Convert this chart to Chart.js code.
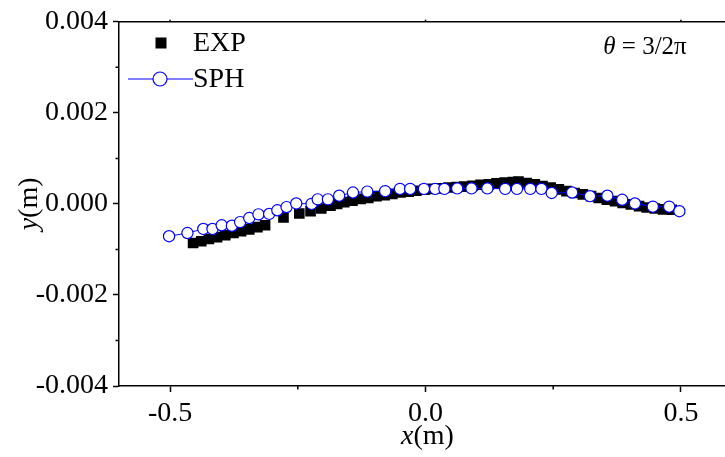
<!DOCTYPE html>
<html>
<head>
<meta charset="utf-8">
<script src="https://cdn.jsdelivr.net/npm/chart.js@4.4.1/dist/chart.umd.min.js"></script>
<style>
  html, body { margin: 0; padding: 0; overflow: hidden; background: #fff; }
  #chart { display: block; }
</style>
</head>
<body>
<canvas id="chart" width="740" height="457"></canvas>
<script>
// EXP (black squares)
const expX = [-0.455,-0.439,-0.424,-0.408,-0.392,-0.376,-0.361,-0.345,-0.329,-0.314,
  -0.278,-0.247,-0.225,-0.204,-0.186,-0.173,-0.159,-0.143,-0.127,-0.112,
  -0.096,-0.080,-0.065,-0.049,-0.033,-0.018,-0.002,0.014,0.029,0.045,
  0.061,0.076,0.092,0.108,0.124,0.139,0.155,0.171,0.182,0.198,
  0.214,0.229,0.245,0.261,0.276,0.292,0.308,0.324,0.339,0.355,
  0.371,0.386,0.402,0.418,0.433,0.449,0.465,0.482];
const expY = [-0.00086,-0.00082,-0.00077,-0.00073,-0.00069,-0.00064,-0.00060,-0.00056,-0.00051,-0.00047,
  -0.00030,-0.00021,-0.00016,-0.00010,-0.00004,0.00000,0.00004,0.00007,0.00011,0.00013,
  0.00017,0.00019,0.00022,0.00025,0.00027,0.00029,0.00031,0.00033,0.00034,0.00036,
  0.00037,0.00038,0.00040,0.00042,0.00043,0.00045,0.00047,0.00048,0.00049,0.00046,
  0.00043,0.00039,0.00036,0.00032,0.00028,0.00024,0.00021,0.00017,0.00013,0.00009,
  0.00006,0.00002,-0.00001,-0.00005,-0.00008,-0.00010,-0.00012,-0.00013];

// SPH (blue open circles with line)
const sphX = [-0.502,-0.466,-0.435,-0.417,-0.399,-0.379,-0.363,-0.345,-0.327,-0.306,
  -0.290,-0.272,-0.253,-0.223,-0.211,-0.191,-0.169,-0.142,-0.114,-0.079,
  -0.050,-0.030,-0.003,0.019,0.037,0.062,0.090,0.121,0.156,0.179,
  0.205,0.227,0.247,0.287,0.322,0.356,0.385,0.410,0.445,0.477,0.497];
const sphY = [-0.00071,-0.00064,-0.00055,-0.00055,-0.00047,-0.00048,-0.00040,-0.00031,-0.00023,-0.00022,
  -0.00014,-0.00007,0.00001,0.00000,0.00010,0.00010,0.00018,0.00025,0.00027,0.00028,
  0.00033,0.00033,0.00033,0.00033,0.00033,0.00034,0.00034,0.00034,0.00033,0.00033,
  0.00033,0.00033,0.00024,0.00025,0.00017,0.00018,0.00009,0.00001,-0.00006,-0.00006,-0.00016];

// axes
const xTicks = [-0.5, 0.0, 0.5];
const xMinor = [-0.25, 0.25];
const yTicks = [-0.004, -0.002, 0.000, 0.002, 0.004];
const yMinor = [-0.003, -0.001, 0.001, 0.003];

const serif = '"Liberation Serif", "Times New Roman", serif';

const toPts = (xs, ys) => xs.map((x, i) => ({ x: x, y: ys[i] }));

// text, frame, minor ticks, legend
const extras = {
    id: 'extras',
    afterDraw(chart) {
        const { ctx, chartArea: a, scales: { x, y } } = chart;
        ctx.save();
        ctx.strokeStyle = '#000';
        ctx.lineWidth = 1.5;

        // top + right frame
        ctx.beginPath();
        ctx.moveTo(a.left, a.top);
        ctx.lineTo(a.right, a.top);
        ctx.lineTo(a.right, a.bottom);
        ctx.stroke();

        // minor ticks
        ctx.beginPath();
        xMinor.forEach(v => {
            const p = x.getPixelForValue(v);
            ctx.moveTo(p, a.bottom); ctx.lineTo(p, a.bottom + 3.5);
        });
        yMinor.forEach(v => {
            const p = y.getPixelForValue(v);
            ctx.moveTo(a.left, p); ctx.lineTo(a.left - 3.5, p);
        });
        // small ticks on the top edge
        xTicks.forEach(v => {
            const p = x.getPixelForValue(v);
            ctx.moveTo(p, a.top); ctx.lineTo(p, a.top - 2);
        });
        ctx.stroke();

        ctx.fillStyle = '#000';
        ctx.textBaseline = 'middle';

        const drawMixed = (parts, cx, cy) => {
            let total = 0;
            parts.forEach(p => { ctx.font = p.font; p.w = ctx.measureText(p.t).width; total += p.w; });
            let px = cx - total / 2;
            ctx.textAlign = 'left';
            parts.forEach(p => { ctx.font = p.font; ctx.fillText(p.t, px, cy); px += p.w; });
        };

        // x axis title
        drawMixed([
            { t: 'x', font: 'italic 28px ' + serif },
            { t: '(m)', font: '28px ' + serif }
        ], x.getPixelForValue(0) + 2, 437);

        // y axis title
        ctx.save();
        ctx.translate(30, y.getPixelForValue(0));
        ctx.rotate(-Math.PI / 2);
        drawMixed([
            { t: 'y', font: 'italic 28px ' + serif },
            { t: '(m)', font: '28px ' + serif }
        ], 0, 0);
        ctx.restore();

        // legend
        ctx.fillRect(155.5, 37.5, 11, 11);
        ctx.font = '28px ' + serif;
        ctx.textAlign = 'left';
        ctx.fillText('EXP', 193, 44);

        ctx.strokeStyle = '#0000ff';
        ctx.lineWidth = 1;
        ctx.beginPath();
        ctx.moveTo(128, 79); ctx.lineTo(193, 79);
        ctx.stroke();
        ctx.beginPath();
        ctx.arc(160, 79, 7, 0, Math.PI * 2);
        ctx.fillStyle = '#fff';
        ctx.fill();
        ctx.lineWidth = 1.2;
        ctx.stroke();
        ctx.fillStyle = '#000';
        ctx.fillText('SPH', 193, 80);

        // annotation
        drawMixed([
            { t: '\u03B8', font: 'italic 25px ' + serif },
            { t: ' = 3/2\u03C0', font: '25px ' + serif }
        ], 645, 47);

        ctx.restore();
    }
};

const chart = new Chart(document.getElementById('chart').getContext('2d'), {
    type: 'scatter',
    data: {
        datasets: [
            {
                label: 'SPH',
                data: toPts(sphX, sphY),
                showLine: true,
                order: 0,
                borderColor: '#0000ff',
                borderWidth: 1,
                pointStyle: 'circle',
                pointRadius: 5.6,
                pointBackgroundColor: '#ffffff',
                pointBorderColor: '#0000ff',
                pointBorderWidth: 1.2
            },
            {
                label: 'EXP',
                data: toPts(expX, expY),
                showLine: false,
                order: 1,
                pointStyle: 'rect',
                pointRadius: 7.5,
                pointBackgroundColor: '#000000',
                pointBorderColor: '#000000',
                pointBorderWidth: 0
            }
        ]
    },
    options: {
        responsive: false,
        animation: false,
        devicePixelRatio: 1,
        events: [],
        layout: { padding: { left: 0, top: 19, right: 8, bottom: 0 } },
        plugins: {
            legend: { display: false },
            tooltip: { enabled: false }
        },
        scales: {
            x: {
                type: 'linear',
                min: -0.6,
                max: 0.6,
                afterBuildTicks: s => { s.ticks = xTicks.map(v => ({ value: v })); },
                afterFit: s => { s.height = 71; },
                ticks: {
                    autoSkip: false,
                    maxRotation: 0,
                    padding: 5,
                    color: '#000',
                    font: { family: serif, size: 28 },
                    callback: v => v.toFixed(1)
                },
                grid: { drawOnChartArea: false, tickLength: 6, tickColor: '#000', tickWidth: 1.5 },
                border: { color: '#000', width: 1.5 }
            },
            y: {
                type: 'linear',
                min: -0.004,
                max: 0.004,
                afterBuildTicks: s => { s.ticks = yTicks.map(v => ({ value: v })); },
                afterFit: s => { s.width = 119; },
                ticks: {
                    autoSkip: false,
                    padding: 5,
                    color: '#000',
                    font: { family: serif, size: 28 },
                    callback: v => Math.abs(v) < 1e-9 ? '0.000' : v.toFixed(3)
                },
                grid: { drawOnChartArea: false, tickLength: 6, tickColor: '#000', tickWidth: 1.5 },
                border: { color: '#000', width: 1.5 }
            }
        }
    },
    plugins: [extras]
});
</script>
</body>
</html>
